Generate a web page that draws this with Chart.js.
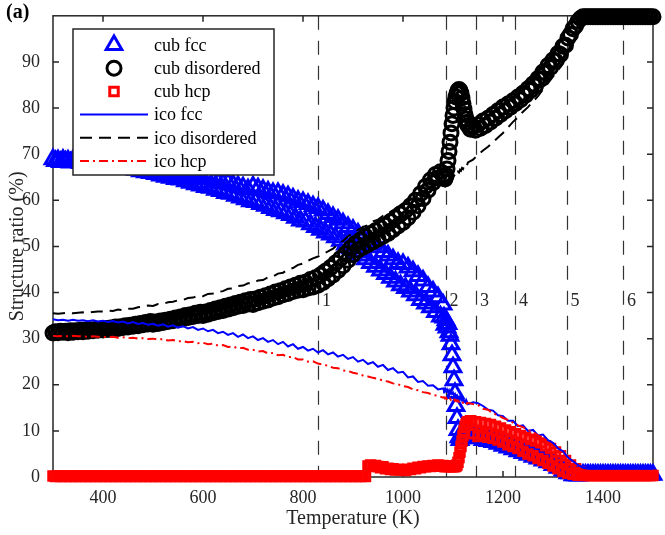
<!DOCTYPE html>
<html>
<head>
<meta charset="utf-8">
<script src="https://cdn.jsdelivr.net/npm/chart.js@4.4.0/dist/chart.umd.min.js"></script>
<style>
  html, body { margin: 0; padding: 0; background: #fff; }
  canvas { display: block; }
</style>
</head>
<body>
<canvas id="structureChart" width="665" height="535"></canvas>
<script>
// Temperature grid (K) for the cuboctahedron markers
const markerTemps = [
  300, 305, 310, 315, 320, 325, 330, 335, 340, 345,
  350, 355, 360, 365, 370, 375, 380, 385, 390, 395,
  400, 405, 410, 415, 420, 425, 430, 435, 440, 445,
  450, 455, 460, 465, 470, 475, 480, 485, 490, 495,
  500, 505, 510, 515, 520, 525, 530, 535, 540, 545,
  550, 555, 560, 565, 570, 575, 580, 585, 590, 595,
  600, 605, 610, 615, 620, 625, 630, 635, 640, 645,
  650, 655, 660, 665, 670, 675, 680, 685, 690, 695,
  700, 705, 710, 715, 720, 725, 730, 735, 740, 745,
  750, 755, 760, 765, 770, 775, 780, 785, 790, 795,
  800, 805, 810, 815, 820, 825, 830, 835, 840, 845,
  850, 855, 860, 865, 870, 875, 880, 885, 890, 895,
  900, 905, 910, 915, 920, 925, 930, 935, 940, 945,
  950, 955, 960, 965, 970, 975, 980, 985, 990, 995,
  1000, 1005, 1010, 1015, 1020, 1025, 1030, 1035, 1040, 1045,
  1050, 1055, 1060, 1065, 1070, 1075, 1080,
  1082, 1084, 1086, 1088, 1090, 1092, 1094, 1096, 1098, 1100,
  1102, 1104, 1106, 1108, 1110, 1112, 1114, 1116, 1118, 1120,
  1122, 1124, 1126, 1128, 1130,
  1135, 1140, 1145, 1150, 1155, 1160, 1165, 1170, 1175, 1180,
  1185, 1190, 1195, 1200, 1205, 1210, 1215, 1220, 1225, 1230,
  1235, 1240, 1245, 1250, 1255, 1260, 1265, 1270, 1275, 1280,
  1285, 1290, 1295, 1300, 1305, 1310, 1315, 1320, 1325, 1330,
  1335, 1340, 1345, 1350, 1355, 1360, 1365, 1370, 1375, 1380,
  1385, 1390, 1395, 1400, 1405, 1410, 1415, 1420, 1425, 1430,
  1435, 1440, 1445, 1450, 1455, 1460, 1465, 1470, 1475, 1480,
  1485, 1490, 1495, 1500
];

// structure ratios (%) of the cuboctahedral particle
const cubFcc = [
  68.9, 68.5, 68.7, 68.3, 68.8, 68.4, 68.6, 68.2, 68.7, 68.3,
  68.5, 68.1, 68.6, 68.0, 68.4, 67.9, 68.3, 67.8, 68.2, 67.6,
  68.2, 67.6, 68.0, 67.4, 67.9, 67.3, 67.7, 67.1, 67.6, 66.9,
  67.5, 66.8, 67.3, 66.6, 67.1, 66.3, 66.9, 66.1, 66.8, 65.9,
  66.9, 65.7, 66.6, 65.4, 66.4, 65.1, 66.2, 64.9, 66.0, 64.6,
  65.9, 64.5, 65.6, 64.1, 65.3, 63.8, 65.0, 63.5, 64.8, 63.2,
  64.8, 62.9, 64.6, 62.7, 64.2, 62.3, 63.9, 62.0, 63.7, 61.6,
  63.8, 61.4, 63.4, 61.0, 63.1, 60.6, 62.8, 60.2, 62.4, 59.8,
  63.0, 59.6, 62.6, 59.2, 62.3, 58.8, 61.9, 58.3, 61.6, 57.9,
  61.6, 57.6, 61.2, 57.2, 60.9, 56.8, 60.4, 56.2, 59.9, 55.6,
  59.6, 55.4, 59.2, 54.8, 58.7, 54.2, 58.3, 53.6, 57.8, 53.0,
  57.0, 52.6, 56.4, 52.0, 55.8, 51.2, 55.0, 50.4, 54.2, 49.6,
  53.6, 48.8, 52.8, 48.0, 52.0, 47.2, 51.2, 46.4, 50.4, 45.6,
  49.8, 44.8, 48.8, 44.0, 48.0, 43.2, 47.2, 42.4, 46.4, 41.6,
  46.2, 41.0, 45.4, 40.2, 44.6, 39.4, 43.6, 38.4, 42.6, 37.6,
  41.2, 36.8, 40.2, 35.8, 39.0, 34.8, 37.4,
  34.6, 33.0, 34.0, 32.4, 33.2, 31.4, 30.6, 28.8, 26.4, 23.8,
  21.0, 18.2, 15.4, 12.8, 10.2, 8.6, 8.0, 9.0, 8.4, 9.4,
  9.0, 9.8, 9.4, 10.0, 9.6,
  9.2, 8.6, 9.0, 8.4, 8.8, 8.0, 8.6, 7.8, 8.2, 7.6,
  7.9, 7.2, 7.6, 6.8, 7.2, 6.4, 6.8, 6.0, 6.4, 5.6,
  6.0, 5.2, 5.6, 4.8, 5.2, 4.4, 4.8, 4.0, 4.4, 3.6,
  3.9, 3.2, 3.4, 2.6, 2.8, 2.0, 2.2, 1.4, 1.4, 0.8,
  0.8, 0.4, 0.4, 0.3, 0.4, 0.5, 0.5, 0.5, 0.5, 0.5,
  0.5, 0.5, 0.5, 0.5, 0.5, 0.5, 0.5, 0.5, 0.5, 0.5,
  0.5, 0.5, 0.5, 0.5, 0.5, 0.5, 0.5, 0.5, 0.5, 0.5,
  0.5, 0.5, 0.5, 0.5
];
const cubDisordered = [
  31.2, 31.5, 31.3, 31.6, 31.4, 31.6, 31.3, 31.7, 31.4, 31.7,
  31.5, 31.8, 31.5, 31.9, 31.6, 31.9, 31.7, 32.0, 31.8, 32.1,
  31.9, 32.2, 32.0, 32.3, 32.1, 32.5, 32.2, 32.6, 32.4, 32.8,
  32.5, 32.9, 32.7, 33.1, 32.8, 33.3, 33.0, 33.5, 33.2, 33.7,
  33.1, 33.6, 33.3, 33.8, 33.5, 34.0, 33.7, 34.2, 33.9, 34.5,
  34.1, 34.7, 34.3, 35.0, 34.6, 35.2, 34.8, 35.5, 35.0, 35.7,
  35.0, 35.8, 35.3, 36.1, 35.6, 36.4, 35.9, 36.7, 36.1, 37.0,
  36.4, 37.3, 36.7, 37.6, 37.0, 37.9, 37.2, 38.2, 37.5, 38.5,
  37.4, 38.6, 37.8, 39.0, 38.1, 39.3, 38.4, 39.7, 38.8, 40.1,
  39.1, 40.4, 39.5, 40.8, 39.8, 41.2, 40.2, 41.6, 40.5, 42.0,
  40.6, 42.2, 41.0, 42.8, 41.2, 43.2, 41.6, 43.8, 42.2, 44.6,
  43.0, 45.4, 43.8, 46.4, 44.8, 47.4, 45.8, 48.4, 47.0, 49.6,
  48.2, 50.6, 49.2, 51.4, 49.8, 52.2, 50.4, 52.8, 51.0, 53.4,
  51.6, 54.0, 52.2, 54.6, 52.8, 55.4, 53.6, 56.2, 54.4, 57.0,
  55.2, 57.8, 56.2, 58.8, 57.4, 60.0, 58.8, 61.4, 60.4, 63.0,
  62.2, 64.4, 63.8, 65.6, 64.8, 66.2, 65.4,
  65.0, 64.6, 65.4, 66.8, 68.6, 70.6, 72.6, 74.6, 76.6, 78.4,
  80.0, 81.4, 82.4, 83.2, 83.8, 84.0, 83.8, 83.2, 82.2, 81.0,
  79.8, 78.6, 77.6, 76.8, 76.2,
  75.4, 76.0, 75.2, 76.4, 75.6, 77.2, 76.2, 77.8, 77.0, 78.6,
  77.8, 79.4, 78.6, 80.2, 79.4, 80.9, 80.2, 81.6, 81.0, 82.4,
  81.8, 83.2, 82.8, 84.2, 83.8, 85.2, 84.8, 86.4, 86.2, 87.8,
  87.6, 89.2, 88.8, 90.4, 90.2, 91.8, 91.6, 93.4, 93.6, 95.2,
  96.0, 97.2, 97.8, 98.8, 99.4, 99.8, 99.8, 99.8, 99.8, 99.8,
  99.8, 99.8, 99.8, 99.8, 99.8, 99.8, 99.8, 99.8, 99.8, 99.8,
  99.8, 99.8, 99.8, 99.8, 99.8, 99.8, 99.8, 99.8, 99.8, 99.8,
  99.8, 99.8, 99.8, 99.8
];
const cubHcp = [
  0.2, 0.1, 0.2, 0.1, 0.2, 0.1, 0.2, 0.1, 0.2, 0.1,
  0.2, 0.1, 0.2, 0.1, 0.2, 0.1, 0.2, 0.1, 0.2, 0.1,
  0.2, 0.1, 0.2, 0.1, 0.2, 0.1, 0.2, 0.1, 0.2, 0.1,
  0.2, 0.1, 0.2, 0.1, 0.2, 0.1, 0.2, 0.1, 0.2, 0.1,
  0.2, 0.1, 0.2, 0.1, 0.2, 0.1, 0.2, 0.1, 0.2, 0.1,
  0.2, 0.1, 0.2, 0.1, 0.2, 0.1, 0.2, 0.1, 0.2, 0.1,
  0.2, 0.1, 0.2, 0.1, 0.2, 0.1, 0.2, 0.1, 0.2, 0.1,
  0.2, 0.1, 0.2, 0.1, 0.2, 0.1, 0.2, 0.1, 0.2, 0.1,
  0.2, 0.1, 0.2, 0.1, 0.2, 0.1, 0.2, 0.1, 0.2, 0.1,
  0.2, 0.1, 0.2, 0.1, 0.2, 0.1, 0.2, 0.1, 0.2, 0.1,
  0.2, 0.1, 0.2, 0.1, 0.2, 0.1, 0.2, 0.1, 0.2, 0.1,
  0.2, 0.1, 0.2, 0.1, 0.2, 0.1, 0.2, 0.1, 0.2, 0.1,
  0.2, 0.1, 0.2, 0.1, 0.2, 0.1, 2.4, 2.6, 2.3, 2.5,
  2.3, 2.0, 2.2, 1.8, 1.9, 1.6, 1.8, 1.5, 1.7, 1.5,
  1.6, 1.4, 1.7, 1.6, 1.9, 1.8, 2.1, 2.0, 2.3, 2.2,
  2.4, 2.3, 2.5, 2.4, 2.6, 2.4, 2.5,
  2.4, 2.2, 2.4, 2.3, 2.4, 2.3, 2.4, 2.2, 2.3, 2.4,
  2.2, 2.3, 2.4, 2.6, 3.2, 4.2, 5.4, 6.6, 7.8, 9.0,
  10.0, 10.8, 11.4, 11.8, 12.0,
  12.2, 9.4, 12.0, 8.8, 11.8, 9.2, 11.6, 8.6, 11.4, 8.4,
  11.0, 8.0, 10.6, 7.6, 10.2, 7.0, 9.8, 6.6, 9.4, 6.2,
  9.0, 5.6, 8.6, 5.0, 8.2, 4.6, 7.8, 4.0, 7.4, 3.6,
  6.8, 3.0, 6.2, 2.4, 5.4, 1.8, 4.6, 1.2, 3.6, 0.8,
  2.6, 0.6, 1.8, 0.4, 1.0, 0.3, 0.5, 0.3, 0.3, 0.3,
  0.3, 0.3, 0.3, 0.3, 0.3, 0.3, 0.3, 0.3, 0.3, 0.3,
  0.3, 0.3, 0.3, 0.3, 0.3, 0.3, 0.3, 0.3, 0.3, 0.3,
  0.3, 0.3, 0.3, 0.3
];

// Temperature grid (K) for the icosahedron curves
const lineTemps = [
  300, 310, 320, 330, 340, 350, 360, 370, 380, 390,
  400, 410, 420, 430, 440, 450, 460, 470, 480, 490,
  500, 510, 520, 530, 540, 550, 560, 570, 580, 590,
  600, 610, 620, 630, 640, 650, 660, 670, 680, 690,
  700, 710, 720, 730, 740, 750, 760, 770, 780, 790,
  800, 810, 820, 830, 840, 850, 860, 870, 880, 890,
  900, 910, 920, 930, 940, 950, 960, 970, 980, 990,
  1000, 1010, 1020, 1030, 1040, 1050, 1060, 1070, 1080,
  1082, 1084, 1086, 1088, 1090, 1092, 1094, 1096, 1098, 1100,
  1102, 1104, 1106, 1108, 1110, 1112, 1114, 1116, 1118, 1120,
  1122, 1124, 1126, 1128, 1130,
  1140, 1150, 1160, 1170, 1180, 1190, 1200, 1210, 1220, 1230,
  1240, 1250, 1260, 1270, 1280, 1290, 1300, 1310, 1320, 1330,
  1340, 1350, 1360, 1370, 1380, 1390, 1400, 1410, 1420, 1430,
  1440, 1450, 1460, 1470, 1480, 1490, 1500
];

// structure ratios (%) of the icosahedral particle
const icoFcc = [
  34.2, 34.0, 34.1, 33.9, 34.1, 33.9, 34.0, 33.8, 34.0, 33.7,
  33.9, 33.6, 33.8, 33.5, 33.7, 33.3, 33.6, 33.2, 33.4, 33.0,
  33.2, 32.8, 33.1, 32.6, 32.9, 32.4, 32.7, 32.2, 32.5, 31.9,
  32.2, 31.6, 31.9, 31.2, 31.5, 30.8, 31.2, 30.4, 30.9, 30.1,
  30.5, 29.7, 30.1, 29.3, 29.7, 28.8, 29.3, 28.3, 28.8, 27.8,
  28.2, 27.4, 27.8, 27.0, 27.5, 26.6, 27.0, 26.1, 26.5, 25.6,
  26.0, 25.0, 25.4, 24.5, 24.9, 23.9, 24.3, 23.2, 23.6, 22.6,
  22.8, 21.6, 21.8, 20.6, 20.8, 19.8, 19.9, 19.0, 19.2,
  18.8, 19.2, 18.6, 19.0, 18.4, 18.8, 18.2, 18.6, 18.0, 18.3,
  17.7, 18.0, 17.4, 17.7, 17.1, 17.4, 16.8, 17.1, 16.6, 16.9,
  16.3, 16.6, 16.0, 16.3, 15.8,
  16.2, 16.0, 15.4, 14.6, 14.4, 13.4, 13.2, 12.2, 12.2, 11.0,
  11.2, 10.0, 10.2, 9.0, 9.2, 8.0, 7.4, 6.2, 5.6, 4.2,
  3.4, 2.6, 2.0, 1.8, 1.8, 1.8, 1.8, 1.8, 1.8, 1.8,
  1.8, 1.8, 1.8, 1.8, 1.8, 1.8, 1.8
];
const icoDisordered = [
  35.5, 35.4, 35.5, 35.6, 35.5, 35.6, 35.7, 35.6, 35.8, 35.9,
  35.9, 36.1, 36.0, 36.3, 36.2, 36.5, 36.5, 36.8, 36.9, 37.2,
  37.1, 37.5, 37.5, 37.9, 38.0, 38.3, 38.4, 38.8, 38.9, 39.3,
  39.2, 39.7, 39.8, 40.2, 40.3, 40.8, 40.9, 41.4, 41.5, 42.0,
  42.0, 42.6, 42.7, 43.3, 43.5, 44.1, 44.3, 45.0, 45.3, 46.0,
  46.3, 46.9, 47.4, 47.8, 48.4, 48.9, 49.5, 50.4, 51.2, 52.2,
  52.8, 53.6, 54.2, 54.6, 55.4, 55.8, 56.6, 57.2, 57.8, 58.6,
  59.0, 59.8, 60.4, 61.0, 61.8, 62.4, 62.8, 63.4, 63.8,
  63.6, 63.2, 64.0, 63.6, 64.2, 64.0, 64.6, 64.4, 65.0, 64.8,
  65.4, 65.2, 65.8, 65.6, 66.2, 66.0, 66.6, 66.4, 67.0, 66.8,
  67.4, 67.2, 67.8, 67.6, 68.2,
  68.8, 69.8, 70.8, 71.6, 72.6, 73.6, 74.6, 75.8, 77.0, 78.0,
  79.2, 80.2, 81.4, 82.6, 84.0, 85.4, 86.8, 88.2, 89.6, 92.0,
  95.0, 98.0, 99.6, 99.8, 99.8, 99.8, 99.8, 99.8, 99.8, 99.8,
  99.8, 99.8, 99.8, 99.8, 99.8, 99.8, 99.8
];
const icoHcp = [
  30.6, 30.5, 30.6, 30.5, 30.6, 30.5, 30.5, 30.4, 30.5, 30.4,
  30.4, 30.3, 30.4, 30.2, 30.3, 30.1, 30.2, 30.0, 30.1, 29.9,
  30.0, 29.8, 29.9, 29.6, 29.7, 29.4, 29.5, 29.2, 29.3, 29.0,
  29.1, 28.8, 28.9, 28.5, 28.6, 28.2, 28.3, 27.9, 28.0, 27.6,
  27.6, 27.2, 27.3, 26.8, 26.9, 26.4, 26.5, 26.0, 26.0, 25.5,
  25.5, 25.0, 25.1, 24.6, 24.4, 24.1, 23.7, 23.6, 23.1, 23.0,
  22.6, 22.4, 22.0, 21.8, 21.5, 21.3, 20.9, 20.7, 20.3, 20.1,
  19.7, 19.5, 19.0, 18.8, 18.4, 18.2, 17.8, 17.6, 17.2,
  17.3, 17.0, 17.2, 16.9, 17.1, 16.8, 17.0, 16.7, 16.9, 16.6,
  16.8, 16.5, 16.7, 16.4, 16.6, 16.3, 16.5, 16.2, 16.4, 16.1,
  16.3, 16.0, 16.2, 15.9, 16.1,
  15.8, 15.6, 14.8, 14.6, 13.8, 13.4, 12.8, 12.4, 11.8, 11.2,
  10.8, 10.2, 9.8, 9.0, 8.6, 7.6, 6.8, 5.6, 4.6, 3.6,
  2.6, 1.8, 1.2, 0.6, 0.6, 0.6, 0.6, 0.6, 0.6, 0.6,
  0.6, 0.6, 0.6, 0.6, 0.6, 0.6, 0.6
];

// melting stage boundaries (K) and their labels
const stageTemps = [830, 1085, 1146, 1224, 1327, 1440];
const stageLabels = ['1', '2', '3', '4', '5', '6'];
const stageLabelLevel = 38;

const xTicks = [400, 600, 800, 1000, 1200, 1400];
const yTicks = [0, 10, 20, 30, 40, 50, 60, 70, 80, 90];

const axisColor = '#262626';
const serif = "'Liberation Serif', 'Times New Roman', serif";
const markerStroke = 3;

function toPoints(grid, values) {
  return grid.map((t, i) => ({ x: t, y: values[i] }));
}

function markerSet(label, values, style, color, radius, order) {
  return {
    label: label,
    data: toPoints(markerTemps, values),
    showLine: false,
    pointStyle: style,
    pointRadius: radius,
    pointBorderWidth: markerStroke,
    pointBorderColor: color,
    pointBackgroundColor: 'rgba(0,0,0,0)',
    borderColor: color,
    backgroundColor: 'rgba(0,0,0,0)',
    clip: false,
    order: order
  };
}

function lineSet(label, values, color, dash, order) {
  return {
    label: label,
    data: toPoints(lineTemps, values),
    borderColor: color,
    borderWidth: 2,
    borderDash: dash,
    pointRadius: 0,
    tension: 0,
    clip: false,
    order: order
  };
}

function drawMarker(ctx, style, x, y, r) {
  ctx.beginPath();
  if (style === 'triangle') {
    ctx.moveTo(x, y - r);
    ctx.lineTo(x + r * 0.866, y + r * 0.5);
    ctx.lineTo(x - r * 0.866, y + r * 0.5);
    ctx.closePath();
  } else if (style === 'rect') {
    const s = r * Math.SQRT1_2;
    ctx.rect(x - s, y - s, 2 * s, 2 * s);
  } else {
    ctx.arc(x, y, r, 0, Math.PI * 2);
  }
  ctx.stroke();
}

// axes box, inward ticks and the dashed stage boundaries
const framePlugin = {
  id: 'frame',
  beforeDatasetsDraw(chart) {
    const { ctx, chartArea: a, scales: { x, y } } = chart;
    ctx.save();
    ctx.strokeStyle = '#333';
    ctx.lineWidth = 1.2;
    ctx.setLineDash([14, 11]);
    stageTemps.forEach(t => {
      const px = Math.round(x.getPixelForValue(t)) + 0.5;
      ctx.beginPath();
      ctx.moveTo(px, a.top);
      ctx.lineTo(px, a.bottom);
      ctx.stroke();
    });
    ctx.setLineDash([]);

    ctx.fillStyle = axisColor;
    ctx.font = '18px ' + serif;
    ctx.textAlign = 'left';
    ctx.textBaseline = 'middle';
    stageTemps.forEach((t, i) => {
      ctx.fillText(stageLabels[i], x.getPixelForValue(t) + 4, y.getPixelForValue(stageLabelLevel));
    });

    ctx.strokeStyle = axisColor;
    ctx.lineWidth = 1.5;
    ctx.strokeRect(a.left, a.top, a.right - a.left, a.bottom - a.top);
    const tick = 6;
    ctx.beginPath();
    xTicks.forEach(v => {
      const px = x.getPixelForValue(v);
      ctx.moveTo(px, a.bottom); ctx.lineTo(px, a.bottom - tick);
      ctx.moveTo(px, a.top); ctx.lineTo(px, a.top + tick);
    });
    yTicks.forEach(v => {
      const py = y.getPixelForValue(v);
      ctx.moveTo(a.left, py); ctx.lineTo(a.left + tick, py);
      ctx.moveTo(a.right, py); ctx.lineTo(a.right - tick, py);
    });
    ctx.stroke();
    ctx.restore();
  }
};

// boxed legend in the upper left corner, plus the panel tag
const boxLegendPlugin = {
  id: 'boxLegend',
  afterDatasetsDraw(chart) {
    const ctx = chart.ctx;
    const box = { x: 73, y: 29, w: 201, h: 146 };
    ctx.save();
    ctx.fillStyle = '#fff';
    ctx.fillRect(box.x, box.y, box.w, box.h);
    ctx.strokeStyle = axisColor;
    ctx.lineWidth = 1.5;
    ctx.strokeRect(box.x, box.y, box.w, box.h);

    ctx.font = '18px ' + serif;
    ctx.textAlign = 'left';
    ctx.textBaseline = 'middle';
    chart.data.datasets.forEach((ds, i) => {
      const rowY = box.y + 16 + i * 23.2;
      if (ds.showLine === false) {
        ctx.strokeStyle = ds.pointBorderColor;
        ctx.lineWidth = ds.pointBorderWidth;
        drawMarker(ctx, ds.pointStyle, 114, rowY, ds.pointRadius);
      } else {
        ctx.strokeStyle = ds.borderColor;
        ctx.lineWidth = 2;
        ctx.setLineDash(ds.borderDash);
        ctx.beginPath();
        ctx.moveTo(80, rowY);
        ctx.lineTo(148, rowY);
        ctx.stroke();
        ctx.setLineDash([]);
      }
      ctx.fillStyle = '#000';
      ctx.fillText(ds.label, 154, rowY + 1);
    });

    ctx.font = 'bold 20px ' + serif;
    ctx.fillStyle = '#000';
    ctx.textBaseline = 'alphabetic';
    ctx.fillText('(a)', 6, 18);
    ctx.restore();
  }
};

const ctx = document.getElementById('structureChart').getContext('2d');
new Chart(ctx, {
  type: 'line',
  data: {
    datasets: [
      markerSet('cub fcc', cubFcc, 'triangle', '#0000ff', 9, 6),
      markerSet('cub disordered', cubDisordered, 'circle', '#000000', 7, 5),
      markerSet('cub hcp', cubHcp, 'rect', '#ff0000', 6, 4),
      lineSet('ico fcc', icoFcc, '#0000ff', [], 3),
      lineSet('ico disordered', icoDisordered, '#000000', [12, 7], 2),
      lineSet('ico hcp', icoHcp, '#ff0000', [9, 4, 2, 4], 1)
    ]
  },
  options: {
    responsive: false,
    animation: false,
    devicePixelRatio: 1,
    layout: { padding: { top: 10, right: 7, left: 0, bottom: 0 } },
    plugins: {
      legend: { display: false },
      tooltip: { enabled: false }
    },
    scales: {
      x: {
        type: 'linear',
        min: 300,
        max: 1500,
        grid: { display: false },
        border: { display: false },
        afterBuildTicks: s => { s.ticks = xTicks.map(v => ({ value: v })); },
        afterFit: s => { s.height = 58; },
        ticks: {
          color: axisColor,
          font: { family: serif, size: 18 },
          padding: 2,
          maxRotation: 0,
          callback: v => String(v)
        },
        title: {
          display: true,
          text: 'Temperature (K)',
          color: axisColor,
          font: { family: serif, size: 20 },
          padding: { top: 0, bottom: 4 }
        }
      },
      y: {
        type: 'linear',
        min: 0,
        max: 100,
        grid: { display: false },
        border: { display: false },
        afterBuildTicks: s => { s.ticks = yTicks.map(v => ({ value: v })); },
        afterFit: s => { s.width = 53; },
        ticks: {
          color: axisColor,
          font: { family: serif, size: 18 },
          padding: 5,
          callback: v => String(v)
        },
        title: {
          display: true,
          text: 'Structure ratio (%)',
          color: axisColor,
          font: { family: serif, size: 20 },
          padding: { top: 6, bottom: 0 }
        }
      }
    }
  },
  plugins: [framePlugin, boxLegendPlugin]
});
</script>
</body>
</html>
